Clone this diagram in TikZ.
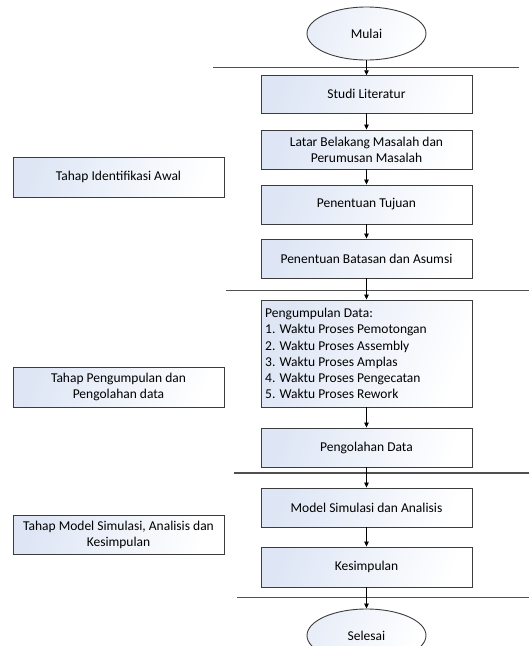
\documentclass[tikz,border=0pt]{standalone}
\usepackage{fontspec}
\setmainfont{Carlito}
\usetikzlibrary{shapes.geometric,arrows.meta}
\definecolor{boxblue}{RGB}{222,230,245}
\definecolor{edge}{RGB}{60,60,60}
\tikzset{
  stepbox/.style={draw=edge, line width=0.9pt, left color=boxblue, right color=white, shading angle=70,
    minimum width=211pt, inner sep=0pt, align=center, font=\fontsize{13.5}{16.2}\selectfont},
  sidebox/.style={draw=edge, line width=0.9pt, left color=boxblue, right color=white, shading angle=70,
    minimum width=211pt, minimum height=40pt, inner sep=0pt, align=center, font=\fontsize{13.5}{16.2}\selectfont},
  term/.style={ellipse, draw=edge, line width=0.9pt, left color=boxblue!70, right color=white, shading angle=70,
    minimum width=119pt, minimum height=53pt, inner sep=0pt, font=\fontsize{13.5}{16.2}\selectfont},
  sep/.style={draw=edge!90, line width=1.2pt},
  flow/.style={draw=black, line width=0.8pt, -{Triangle[length=5pt,width=4.5pt]}}
}
\begin{document}
\begin{tikzpicture}[x=1pt,y=-1pt]
\useasboundingbox (0,0) rectangle (529,646);
% terminals
\node[term] (mulai) at (366.5,33.5) {Mulai};
\node[term] (selesai) at (366.5,635.5) {Selesai};
% step boxes
\node[stepbox, minimum height=37.3pt] (studi) at (366.5,94.35) {Studi Literatur};
\node[stepbox, minimum height=39pt] (latar) at (366.5,149.5) {Latar Belakang Masalah dan\\Perumusan Masalah};
\node[stepbox, minimum height=39pt] (tujuan) at (366.5,204.5) {Penentuan Tujuan};
\node[stepbox, minimum height=39pt] (batasan) at (366.5,258.5) {Penentuan Batasan dan Asumsi};
\node[stepbox, minimum height=107pt] (kumpul) at (366.5,353.5) {};
\node[anchor=west, align=left, inner sep=0pt, font=\fontsize{13.5}{16.2}\selectfont] (kumpultxt) at (265,353.5)
  {Pengumpulan Data:\\1. Waktu Proses Pemotongan\\2. Waktu Proses Assembly\\3. Waktu Proses Amplas\\4. Waktu Proses Pengecatan\\5. Waktu Proses Rework};
\node[stepbox, minimum height=39pt] (olah) at (366.5,447.5) {Pengolahan Data};
\node[stepbox, minimum height=39pt] (model) at (366.5,507.5) {Model Simulasi dan Analisis};
\node[stepbox, minimum height=40pt] (simpul) at (366.5,567) {Kesimpulan};
% side boxes
\node[sidebox] (tahap1) at (118.5,177) {Tahap Identifikasi Awal};
\node[sidebox] (tahap2) at (118.5,387) {Tahap Pengumpulan dan\\Pengolahan data};
\node[sidebox, minimum height=39pt] (tahap3) at (118.5,535) {Tahap Model Simulasi, Analisis dan\\Kesimpulan};
% separator lines
\coordinate (s1a) at (213,67.7); \coordinate (s1b) at (519,67.7);
\coordinate (s2a) at (226,290.7); \coordinate (s2b) at (529,290.7);
\coordinate (s3a) at (234,473); \coordinate (s3b) at (529,473);
\coordinate (s4a) at (237,597.5); \coordinate (s4b) at (529,597.5);
\draw[sep] (s1a) -- (s1b);
\draw[sep] (s2a) -- (s2b);
\draw[sep] (s3a) -- (s3b);
\draw[sep] (s4a) -- (s4b);
% connectors
\draw[flow] (mulai) -- (studi);
\draw[flow] (studi) -- (latar);
\draw[flow] (latar) -- (tujuan);
\draw[flow] (tujuan) -- (batasan);
\draw[flow] (batasan) -- (kumpul);
\draw[flow] (kumpul) -- (olah);
\draw[flow] (olah) -- (model);
\draw[flow] (model) -- (simpul);
\draw[flow] (simpul) -- (selesai);
\end{tikzpicture}
\end{document}
